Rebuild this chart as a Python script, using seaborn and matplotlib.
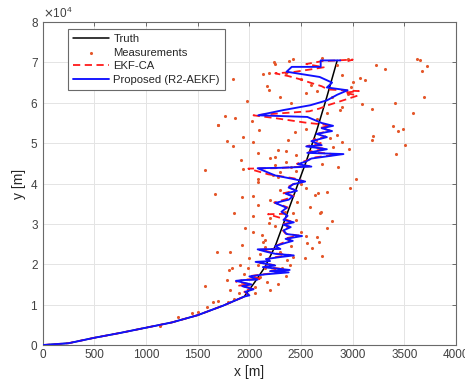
import numpy as np
import pandas as pd
import matplotlib
matplotlib.use("Agg")
import matplotlib.pyplot as plt
import seaborn as sns

# ---------------- data ----------------
truth_x = [0, 250, 500, 750, 1000, 1250, 1500, 1750, 1950, 2050, 2150, 2250, 2350, 2450, 2550, 2650, 2750, 2850]
truth_y = [0, 450, 1800, 3000, 4300, 5600, 7400, 9800, 12000, 15500, 19300, 24500, 31500, 38500, 45500, 53000, 61500, 70500]

prop_x = [0, 250, 500, 750, 1000, 1250, 1500, 1750, 1950, 2000, 1960, 2040, 1930, 2020, 1870, 1940, 2080, 2000,
          2150, 2380, 2200, 2390, 2130, 2250, 2060, 2200, 2160, 2300, 2430, 2250, 2150, 2080, 2300, 2250, 2350,
          2420, 2350, 2510, 2360, 2330, 2400, 2330, 2430, 2330, 2370, 2310, 2360, 2250, 2380, 2420, 2350, 2460,
          2380, 2420, 2540, 2410, 2250, 2080, 2300, 2600, 2470, 2550, 2600, 2910, 2560, 2750, 2550, 2700, 2600,
          2750, 2650, 2800, 2700, 2810, 2700, 2560, 2085, 2330, 2590, 2750, 2850, 2950, 2750, 2800, 2680, 2360,
          2410, 2690, 2690, 2880]
prop_y = [0, 450, 1800, 3000, 4300, 5600, 7400, 9800, 12000, 12300, 13200, 13800, 14600, 15000, 15900, 16100,
          16200, 17000, 17500, 18000, 18300, 18600, 19300, 19700, 20600, 20800, 21300, 21800, 22200, 22600, 23200,
          23700, 23800, 24500, 25300, 25800, 26300, 27000, 27500, 28400, 29200, 29800, 30400, 31000, 32000, 33000,
          34000, 35200, 36000, 36800, 37500, 38200, 39000, 39800, 40500, 41200, 42000, 43800, 43900, 44200, 44800,
          45500, 46200, 47300, 47600, 48500, 49200, 49500, 50500, 51500, 52300, 53000, 53700, 54300, 55000, 56500,
          56900, 58200, 59400, 60600, 62000, 63100, 63800, 65000, 66400, 67700, 68900, 68900, 70500, 70500]

ekf_x = [0, 250, 500, 750, 1000, 1250, 1500, 1750, 1950, 1990, 1940, 2050, 1900, 2000, 1870, 1950, 2100, 2010,
         2160, 2350, 2210, 2300, 2150, 2240, 2100, 2190, 2180, 2280, 2400, 2240, 2160, 2100, 2280, 2260, 2330,
         2400, 2340, 2480, 2350, 2320, 2390, 2320, 2420, 2300, 2180, 2330, 2320, 2370, 2240, 2350, 2430, 2330,
         2450, 2370, 2430, 2520, 2430, 2180, 1990, 2250, 2580, 2460, 2540, 2640, 2850, 2580, 2740, 2560, 2700,
         2620, 2740, 2670, 2780, 2690, 2790, 2540, 2250, 2040, 2300, 2580, 2680, 2760, 2870, 3050, 2920, 3060,
         2760, 2700, 2600, 2480, 2380, 2250, 2420, 2600, 2720, 2550, 2700, 3000, 2950]
ekf_y = [0, 450, 1800, 3000, 4300, 5600, 7400, 9800, 12000, 12500, 13400, 14000, 14700, 15100, 15700, 16200,
         16400, 17100, 17600, 18100, 18400, 18900, 19400, 19800, 20400, 20900, 21400, 21900, 22300, 22700, 23300,
         23600, 23900, 24600, 25400, 25900, 26400, 27100, 27600, 28500, 29300, 29900, 30500, 31500, 32400, 32500,
         33200, 34100, 35300, 36100, 36900, 37600, 38300, 39100, 39900, 40600, 41300, 42300, 43700, 43800, 44300,
         44900, 45600, 46500, 47200, 47900, 48600, 49300, 50100, 50900, 51600, 52400, 53100, 53800, 54400, 55100,
         56200, 56900, 57400, 57900, 58600, 59400, 60300, 61800, 62500, 62900, 63300, 64100, 64900, 65900, 66600,
         67300, 67600, 68300, 68800, 69600, 70300, 70700, 70300]

meas_x = [3620, 3652, 3717, 3669, 3691, 3582, 3410, 3226, 3313, 3072, 3120, 3004, 2982, 3088, 3188, 2894, 2878,
          3388, 3436, 3491, 3507, 3417, 3200, 3190, 2968, 2813, 2781, 2856, 3033,
          1765, 1862, 2023, 2097, 1694, 1942, 1787, 1839, 2033, 2087, 1917, 1571, 1942, 2200, 2281, 2355, 2249,
          2442, 2377, 2087, 2226, 2281,
          2239, 2387, 2135, 2193, 2168, 2193, 1839, 1981, 2549, 1700,
          1668, 1933, 2033, 1852, 2087, 2033, 1958, 2039, 2120, 2193, 2200, 2087, 1926, 2135, 2152,
          2975, 2749, 2636, 2662, 2588, 2694, 2797, 2749, 2652, 2678, 2562, 2604, 2465, 2426,
          2345, 2684, 2549, 2700, 2539, 2368, 2313, 2281, 2200, 2055, 1910, 1813, 1684, 1829, 1807, 1781, 1571,
          1813, 1797, 1652, 1587, 1442, 1313, 1136, 1991, 2104, 2168, 2394, 2426, 2087,
          2420, 2700, 2950, 2850, 2900, 2950, 2800, 2650, 2600, 2500, 2350, 2250, 2850, 2900, 2700, 2250, 2350,
          2400, 2300, 2450, 2500, 2550, 2300, 2200, 2450, 2250, 2150, 2300, 2400, 2000, 2100, 2350, 1950, 2050,
          1900, 1850, 1700, 1500, 2500, 2380, 2150, 2450, 2550, 2650, 2750, 2400, 2300]
meas_y = [70950, 70540, 69050, 67890, 61450, 57500, 59970, 69300, 68480, 66260, 65590, 65170, 63930, 59650, 58400,
          58980, 58160,
          54200, 52960, 53460, 49670, 47270, 51800, 50740, 48680, 48930, 51310, 43980, 41090,
          56680, 56260, 55510, 53210, 54620, 51560, 50490, 49250, 50170, 47600, 45790, 43310, 43560, 46210, 48430,
          48090, 46600, 52790, 50910, 41090, 42080, 41660,
          70120, 70290, 67250, 67400, 64100, 63290, 66010, 60390, 62440, 54450,
          37370, 36560, 36880, 32600, 34650, 31930, 28880, 28040, 27220, 30120, 31360, 40420, 24750, 25570, 24330,
          38780, 37940, 37130, 37700, 34080, 32840, 30690, 29030, 26800, 25570, 25170, 24080, 35470, 32600,
          33000, 32750, 26980, 22030, 21610, 21040, 18980, 15020, 13610, 12800, 19800, 23090, 23090, 18980, 18560,
          16090, 14600, 13610, 10720, 10720, 9480, 7850, 7000, 4700, 18980, 16760, 15670, 19800, 21850, 19800,
          70800, 71000, 70800, 69300, 66800, 62300, 61500, 63000, 64500, 66000, 67300, 69500, 52000, 50300, 44800,
          44500, 45300, 44200, 42800, 43000, 40000, 39000, 38500, 36000, 31000, 29500, 26000, 23000, 24500, 21500,
          22500, 17000, 17500, 14500, 13000, 11500, 11000, 8300, 28000, 26000, 19000, 47000, 53500, 56000, 57500,
          60000, 61500]

x_ticks = [0, 500, 1000, 1500, 2000, 2500, 3000, 3500, 4000]
y_ticks = [0, 10000, 20000, 30000, 40000, 50000, 60000, 70000, 80000]

# ---------------- figure ----------------
sns.set_theme(style="whitegrid")
plt.rcParams['font.family'] = ['Liberation Sans', 'DejaVu Sans']

fig = plt.figure(figsize=(4.65, 3.89), dpi=100)
ax = fig.add_axes([0.0918, 0.113, 0.889, 0.8303])

truth_df = pd.DataFrame({"x": truth_x, "y": truth_y})
meas_df = pd.DataFrame({"x": meas_x, "y": meas_y})
ekf_df = pd.DataFrame({"x": ekf_x, "y": ekf_y})
prop_df = pd.DataFrame({"x": prop_x, "y": prop_y})

sns.lineplot(data=truth_df, x="x", y="y", sort=False, estimator=None, color="black", lw=1.1,
             ax=ax, label="Truth", zorder=3)
sns.scatterplot(data=meas_df, x="x", y="y", color="#e4572a", s=5, linewidth=0,
                ax=ax, label="Measurements", zorder=3.5)
sns.lineplot(data=ekf_df, x="x", y="y", sort=False, estimator=None, color="#ff1a1a", lw=1.3,
             ax=ax, label="EKF-CA", zorder=4)
ax.lines[-1].set_linestyle((0, (4, 2.5)))
sns.lineplot(data=prop_df, x="x", y="y", sort=False, estimator=None, color="#1010ff", lw=1.35,
             ax=ax, label="Proposed (R2-AEKF)", zorder=4.5)

ax.set_xlim(0, 4000)
ax.set_ylim(0, 80000)
ax.set_xticks(x_ticks)
ax.set_yticks(y_ticks)
ax.ticklabel_format(axis='y', style='sci', scilimits=(4, 4), useMathText=True)
ax.set_xlabel("x [m]", fontsize=10, color="#262626", labelpad=3)
ax.set_ylabel("y [m]", fontsize=10, color="#262626", labelpad=3)

ax.set_facecolor("white")
ax.grid(True, color="#e4e4e4", lw=0.7)
for s in ax.spines.values():
    s.set_visible(True)
    s.set_color("#6a6a6a")
    s.set_linewidth(0.8)
ax.tick_params(axis='both', which='both', direction='in', length=3, width=0.7, color="#6a6a6a",
               labelsize=8.5, labelcolor="#404040", top=True, right=True, pad=3)
ax.yaxis.get_offset_text().set_fontsize(8.5)
ax.yaxis.get_offset_text().set_color("#404040")

handles, labels = ax.get_legend_handles_labels()
leg = ax.legend(handles, labels, loc="upper left", bbox_to_anchor=(0.061, 0.978), fontsize=8.1,
                frameon=True, fancybox=False, framealpha=1, edgecolor="#6a6a6a",
                handlelength=3.2, handletextpad=0.4, borderpad=0.45, labelspacing=0.32,
                borderaxespad=0, markerscale=1.0)
leg.get_frame().set_linewidth(0.8)

fig.savefig("out.png", dpi=100)
